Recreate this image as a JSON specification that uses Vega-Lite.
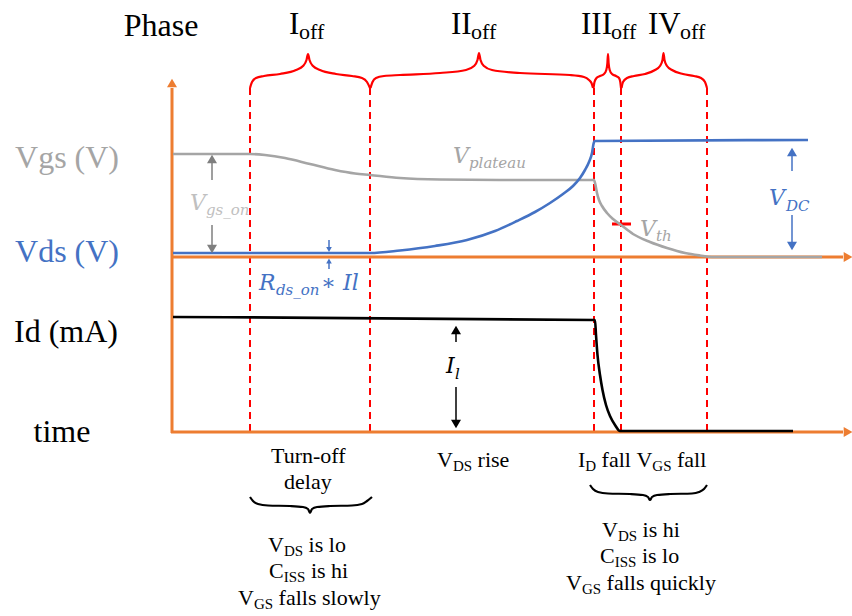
{
  "$schema": "https://vega.github.io/schema/vega-lite/v6.json",
  "width": 852,
  "height": 616,
  "padding": 0,
  "autosize": {"type": "none"},
  "background": "white",
  "config": {"view": {"stroke": null}},
  "datasets": {
    "axes": [
      {"x": 172, "y": 433, "x2": 172, "y2": 88, "c": "axis"},
      {"x": 171, "y": 257, "x2": 843, "y2": 257, "c": "axis"},
      {"x": 171, "y": 432, "x2": 843, "y2": 432, "c": "axis"},
      {"x": 612, "y": 224, "x2": 631, "y2": 224, "c": "red"}
    ],
    "dashes": [
      {"x": 250, "y": 88, "y2": 432, "c": "red"},
      {"x": 370, "y": 88, "y2": 432, "c": "red"},
      {"x": 594, "y": 88, "y2": 432, "c": "red"},
      {"x": 621, "y": 88, "y2": 432, "c": "red"},
      {"x": 707, "y": 88, "y2": 432, "c": "red"}
    ],
    "shafts": [
      {"x": 212, "y": 163, "x2": 212, "y2": 180, "c": "dgray"},
      {"x": 212, "y": 225, "x2": 212, "y2": 245, "c": "dgray"},
      {"x": 329, "y": 240, "x2": 329, "y2": 247, "c": "blue"},
      {"x": 329, "y": 262, "x2": 329, "y2": 269, "c": "blue"},
      {"x": 792, "y": 155, "x2": 792, "y2": 171, "c": "blue"},
      {"x": 792, "y": 215, "x2": 792, "y2": 243, "c": "blue"},
      {"x": 456, "y": 333, "x2": 456, "y2": 342, "c": "black"},
      {"x": 456, "y": 387, "x2": 456, "y2": 420, "c": "black"}
    ],
    "heads": [
      {"x": 848, "y": 257, "dir": "right", "c": "axis"},
      {"x": 848, "y": 432, "dir": "right", "c": "axis"},
      {"x": 172, "y": 83, "dir": "up", "c": "axis"},
      {"x": 212, "y": 159, "dir": "up", "c": "dgray"},
      {"x": 212, "y": 249, "dir": "down", "c": "dgray"},
      {"x": 792, "y": 152, "dir": "up", "c": "blue"},
      {"x": 792, "y": 246, "dir": "down", "c": "blue"},
      {"x": 456, "y": 330, "dir": "up", "c": "black"},
      {"x": 456, "y": 424, "dir": "down", "c": "black"}
    ],
    "smallheads": [
      {"x": 329, "y": 249.5, "dir": "down", "c": "blue"},
      {"x": 329, "y": 261, "dir": "up", "c": "blue"}
    ],
    "waves": [
      {"id": "vgs", "c": "gray", "x": 173, "y": 154},
      {"id": "vgs", "c": "gray", "x": 250, "y": 154},
      {"id": "vgs", "c": "gray", "x": 265, "y": 155},
      {"id": "vgs", "c": "gray", "x": 285, "y": 158},
      {"id": "vgs", "c": "gray", "x": 310, "y": 164},
      {"id": "vgs", "c": "gray", "x": 335, "y": 170},
      {"id": "vgs", "c": "gray", "x": 355, "y": 173.5},
      {"id": "vgs", "c": "gray", "x": 370, "y": 175},
      {"id": "vgs", "c": "gray", "x": 400, "y": 178},
      {"id": "vgs", "c": "gray", "x": 440, "y": 179.5},
      {"id": "vgs", "c": "gray", "x": 500, "y": 180},
      {"id": "vgs", "c": "gray", "x": 594, "y": 180},
      {"id": "vgs", "c": "gray", "x": 595.5, "y": 185},
      {"id": "vgs", "c": "gray", "x": 597, "y": 193},
      {"id": "vgs", "c": "gray", "x": 599, "y": 200},
      {"id": "vgs", "c": "gray", "x": 602, "y": 206},
      {"id": "vgs", "c": "gray", "x": 607, "y": 213},
      {"id": "vgs", "c": "gray", "x": 613, "y": 219},
      {"id": "vgs", "c": "gray", "x": 621, "y": 225},
      {"id": "vgs", "c": "gray", "x": 633, "y": 234},
      {"id": "vgs", "c": "gray", "x": 650, "y": 242},
      {"id": "vgs", "c": "gray", "x": 667, "y": 248},
      {"id": "vgs", "c": "gray", "x": 685, "y": 253},
      {"id": "vgs", "c": "gray", "x": 700, "y": 255.5},
      {"id": "vgs", "c": "gray", "x": 712, "y": 257},
      {"id": "vgs", "c": "gray", "x": 822, "y": 257},
      {"id": "vds", "c": "blue", "x": 173, "y": 253},
      {"id": "vds", "c": "blue", "x": 370, "y": 253},
      {"id": "vds", "c": "blue", "x": 400, "y": 250.5},
      {"id": "vds", "c": "blue", "x": 435, "y": 246},
      {"id": "vds", "c": "blue", "x": 467, "y": 240},
      {"id": "vds", "c": "blue", "x": 495, "y": 231},
      {"id": "vds", "c": "blue", "x": 517, "y": 221},
      {"id": "vds", "c": "blue", "x": 535, "y": 212},
      {"id": "vds", "c": "blue", "x": 550, "y": 203},
      {"id": "vds", "c": "blue", "x": 563, "y": 194},
      {"id": "vds", "c": "blue", "x": 573, "y": 186},
      {"id": "vds", "c": "blue", "x": 580, "y": 178},
      {"id": "vds", "c": "blue", "x": 585, "y": 170},
      {"id": "vds", "c": "blue", "x": 589, "y": 162},
      {"id": "vds", "c": "blue", "x": 592, "y": 153},
      {"id": "vds", "c": "blue", "x": 593.5, "y": 144},
      {"id": "vds", "c": "blue", "x": 594.5, "y": 141},
      {"id": "vds", "c": "blue", "x": 808, "y": 140},
      {"id": "id", "c": "black", "x": 173, "y": 317},
      {"id": "id", "c": "black", "x": 595, "y": 320},
      {"id": "id", "c": "black", "x": 596, "y": 335},
      {"id": "id", "c": "black", "x": 597.5, "y": 355},
      {"id": "id", "c": "black", "x": 600, "y": 375},
      {"id": "id", "c": "black", "x": 602.5, "y": 390},
      {"id": "id", "c": "black", "x": 606, "y": 405},
      {"id": "id", "c": "black", "x": 610, "y": 416},
      {"id": "id", "c": "black", "x": 615, "y": 425},
      {"id": "id", "c": "black", "x": 620, "y": 431},
      {"id": "id", "c": "black", "x": 793, "y": 431}
    ],
    "braces": [
      {"id": "b1", "c": "red", "x": 250, "y": 88},
      {"id": "b1", "c": "red", "x": 252, "y": 82},
      {"id": "b1", "c": "red", "x": 256, "y": 78},
      {"id": "b1", "c": "red", "x": 264, "y": 76},
      {"id": "b1", "c": "red", "x": 280, "y": 74},
      {"id": "b1", "c": "red", "x": 296, "y": 70},
      {"id": "b1", "c": "red", "x": 303, "y": 66},
      {"id": "b1", "c": "red", "x": 306.5, "y": 60},
      {"id": "b1", "c": "red", "x": 308, "y": 54},
      {"id": "b1", "c": "red", "x": 309.5, "y": 60},
      {"id": "b1", "c": "red", "x": 313, "y": 66},
      {"id": "b1", "c": "red", "x": 320, "y": 70},
      {"id": "b1", "c": "red", "x": 336, "y": 74},
      {"id": "b1", "c": "red", "x": 352, "y": 76},
      {"id": "b1", "c": "red", "x": 362, "y": 78},
      {"id": "b1", "c": "red", "x": 367, "y": 82},
      {"id": "b1", "c": "red", "x": 370, "y": 88},
      {"id": "b2", "c": "red", "x": 370.5, "y": 88},
      {"id": "b2", "c": "red", "x": 372.5, "y": 82},
      {"id": "b2", "c": "red", "x": 376, "y": 78},
      {"id": "b2", "c": "red", "x": 384, "y": 76},
      {"id": "b2", "c": "red", "x": 400, "y": 75},
      {"id": "b2", "c": "red", "x": 440, "y": 73},
      {"id": "b2", "c": "red", "x": 466, "y": 70},
      {"id": "b2", "c": "red", "x": 474, "y": 66},
      {"id": "b2", "c": "red", "x": 477.5, "y": 60},
      {"id": "b2", "c": "red", "x": 479, "y": 53},
      {"id": "b2", "c": "red", "x": 480.5, "y": 60},
      {"id": "b2", "c": "red", "x": 484, "y": 66},
      {"id": "b2", "c": "red", "x": 492, "y": 70},
      {"id": "b2", "c": "red", "x": 520, "y": 73},
      {"id": "b2", "c": "red", "x": 570, "y": 75},
      {"id": "b2", "c": "red", "x": 584, "y": 77},
      {"id": "b2", "c": "red", "x": 589, "y": 80},
      {"id": "b2", "c": "red", "x": 591.5, "y": 83},
      {"id": "b2", "c": "red", "x": 593, "y": 88},
      {"id": "b3", "c": "red", "x": 593.5, "y": 88},
      {"id": "b3", "c": "red", "x": 594.5, "y": 82},
      {"id": "b3", "c": "red", "x": 596.5, "y": 78},
      {"id": "b3", "c": "red", "x": 600, "y": 76},
      {"id": "b3", "c": "red", "x": 604, "y": 74},
      {"id": "b3", "c": "red", "x": 606.3, "y": 70},
      {"id": "b3", "c": "red", "x": 607.4, "y": 63},
      {"id": "b3", "c": "red", "x": 608, "y": 54},
      {"id": "b3", "c": "red", "x": 608.6, "y": 63},
      {"id": "b3", "c": "red", "x": 609.7, "y": 70},
      {"id": "b3", "c": "red", "x": 612, "y": 74},
      {"id": "b3", "c": "red", "x": 616, "y": 76},
      {"id": "b3", "c": "red", "x": 619, "y": 78},
      {"id": "b3", "c": "red", "x": 620.3, "y": 82},
      {"id": "b3", "c": "red", "x": 621, "y": 88},
      {"id": "b4", "c": "red", "x": 621.5, "y": 88},
      {"id": "b4", "c": "red", "x": 623, "y": 82},
      {"id": "b4", "c": "red", "x": 627, "y": 78},
      {"id": "b4", "c": "red", "x": 634, "y": 76},
      {"id": "b4", "c": "red", "x": 645, "y": 74},
      {"id": "b4", "c": "red", "x": 655, "y": 70},
      {"id": "b4", "c": "red", "x": 660, "y": 66},
      {"id": "b4", "c": "red", "x": 662.5, "y": 60},
      {"id": "b4", "c": "red", "x": 663.5, "y": 53},
      {"id": "b4", "c": "red", "x": 664.5, "y": 60},
      {"id": "b4", "c": "red", "x": 667, "y": 66},
      {"id": "b4", "c": "red", "x": 672, "y": 70},
      {"id": "b4", "c": "red", "x": 683, "y": 74},
      {"id": "b4", "c": "red", "x": 694, "y": 76},
      {"id": "b4", "c": "red", "x": 701, "y": 78},
      {"id": "b4", "c": "red", "x": 705, "y": 82},
      {"id": "b4", "c": "red", "x": 707, "y": 88},
      {"id": "b5", "c": "black", "x": 250, "y": 497},
      {"id": "b5", "c": "black", "x": 253, "y": 501},
      {"id": "b5", "c": "black", "x": 258, "y": 504},
      {"id": "b5", "c": "black", "x": 268, "y": 505.5},
      {"id": "b5", "c": "black", "x": 290, "y": 506},
      {"id": "b5", "c": "black", "x": 303, "y": 507},
      {"id": "b5", "c": "black", "x": 308, "y": 509},
      {"id": "b5", "c": "black", "x": 310, "y": 513},
      {"id": "b5", "c": "black", "x": 312, "y": 509},
      {"id": "b5", "c": "black", "x": 317, "y": 507},
      {"id": "b5", "c": "black", "x": 330, "y": 506},
      {"id": "b5", "c": "black", "x": 352, "y": 505.5},
      {"id": "b5", "c": "black", "x": 362, "y": 504},
      {"id": "b5", "c": "black", "x": 367, "y": 501},
      {"id": "b5", "c": "black", "x": 372, "y": 497},
      {"id": "b6", "c": "black", "x": 590, "y": 485},
      {"id": "b6", "c": "black", "x": 593, "y": 489},
      {"id": "b6", "c": "black", "x": 598, "y": 492},
      {"id": "b6", "c": "black", "x": 608, "y": 493.5},
      {"id": "b6", "c": "black", "x": 630, "y": 494},
      {"id": "b6", "c": "black", "x": 643, "y": 495},
      {"id": "b6", "c": "black", "x": 648, "y": 497},
      {"id": "b6", "c": "black", "x": 650, "y": 500},
      {"id": "b6", "c": "black", "x": 652, "y": 497},
      {"id": "b6", "c": "black", "x": 657, "y": 495},
      {"id": "b6", "c": "black", "x": 670, "y": 494},
      {"id": "b6", "c": "black", "x": 692, "y": 493.5},
      {"id": "b6", "c": "black", "x": 699, "y": 492},
      {"id": "b6", "c": "black", "x": 704, "y": 489},
      {"id": "b6", "c": "black", "x": 707, "y": 485}
    ],
    "big": [
      {"x": 161, "y": 36, "t": "Phase", "c": "black"},
      {"x": 67, "y": 168, "t": "Vgs (V)", "c": "gray"},
      {"x": 67, "y": 262, "t": "Vds (V)", "c": "blue"},
      {"x": 66, "y": 342, "t": "Id (mA)", "c": "black"},
      {"x": 62, "y": 442, "t": "time", "c": "black"}
    ],
    "roman": [
      {"x": 289, "y": 34, "t": "I", "c": "black"},
      {"x": 451, "y": 34, "t": "II", "c": "black"},
      {"x": 581, "y": 34, "t": "III", "c": "black"},
      {"x": 648, "y": 34, "t": "IV", "c": "black"}
    ],
    "romansub": [
      {"x": 299, "y": 39, "t": "off", "c": "black"},
      {"x": 471, "y": 39, "t": "off", "c": "black"},
      {"x": 611, "y": 39, "t": "off", "c": "black"},
      {"x": 680, "y": 39, "t": "off", "c": "black"}
    ],
    "lab": [
      {"x": 271, "y": 463, "t": "Turn-off", "c": "black"},
      {"x": 284, "y": 489, "t": "delay", "c": "black"},
      {"x": 268, "y": 552, "t": "V", "c": "black"},
      {"x": 308.6, "y": 552, "t": "is lo", "c": "black"},
      {"x": 269, "y": 578, "t": "C", "c": "black"},
      {"x": 310.9, "y": 578, "t": "is hi", "c": "black"},
      {"x": 238, "y": 605, "t": "V", "c": "black"},
      {"x": 278.6, "y": 605, "t": "falls slowly", "c": "black"},
      {"x": 437, "y": 467, "t": "V", "c": "black"},
      {"x": 477.6, "y": 467, "t": "rise", "c": "black"},
      {"x": 578, "y": 467, "t": "I", "c": "black"},
      {"x": 601.6, "y": 467, "t": "fall", "c": "black"},
      {"x": 636.4, "y": 467, "t": "V", "c": "black"},
      {"x": 677, "y": 467, "t": "fall", "c": "black"},
      {"x": 602, "y": 537, "t": "V", "c": "black"},
      {"x": 642.6, "y": 537, "t": "is hi", "c": "black"},
      {"x": 600, "y": 563, "t": "C", "c": "black"},
      {"x": 641.9, "y": 563, "t": "is lo", "c": "black"},
      {"x": 566, "y": 590, "t": "V", "c": "black"},
      {"x": 606.6, "y": 590, "t": "falls quickly", "c": "black"}
    ],
    "labsub": [
      {"x": 283.9, "y": 556, "t": "DS", "c": "black"},
      {"x": 283.7, "y": 582, "t": "ISS", "c": "black"},
      {"x": 253.9, "y": 609, "t": "GS", "c": "black"},
      {"x": 452.9, "y": 471, "t": "DS", "c": "black"},
      {"x": 585.3, "y": 471, "t": "D", "c": "black"},
      {"x": 652.3, "y": 471, "t": "GS", "c": "black"},
      {"x": 617.9, "y": 541, "t": "DS", "c": "black"},
      {"x": 614.7, "y": 567, "t": "ISS", "c": "black"},
      {"x": 581.9, "y": 594, "t": "GS", "c": "black"}
    ],
    "math": [
      {"x": 190, "y": 210, "t": "V", "c": "lgray"},
      {"x": 259, "y": 290, "t": "R", "c": "blue"},
      {"x": 321, "y": 290, "t": "∗ Il", "c": "blue"},
      {"x": 453, "y": 163, "t": "V", "c": "gray"},
      {"x": 640, "y": 236, "t": "V", "c": "gray"},
      {"x": 769, "y": 205, "t": "V", "c": "blue"},
      {"x": 446, "y": 373, "t": "I", "c": "black"}
    ],
    "mathsub": [
      {"x": 206, "y": 215, "t": "gs_on", "c": "lgray"},
      {"x": 276, "y": 295, "t": "ds_on", "c": "blue"},
      {"x": 469, "y": 168, "t": "plateau", "c": "gray"},
      {"x": 656, "y": 241, "t": "th", "c": "gray"},
      {"x": 786, "y": 211, "t": "DC", "c": "blue"},
      {"x": 455, "y": 379, "t": "l", "c": "black"}
    ]
  },
  "encoding": {
    "x": {"field": "x", "type": "quantitative", "scale": {"domain": [0, 852], "nice": false, "zero": false}, "axis": null},
    "y": {"field": "y", "type": "quantitative", "scale": {"domain": [0, 616], "nice": false, "zero": false, "reverse": true}, "axis": null},
    "color": {
      "field": "c", "type": "nominal", "legend": null,
      "scale": {
        "domain": ["axis", "gray", "lgray", "dgray", "blue", "black", "red"],
        "range": ["#ed7d31", "#a5a5a5", "#c0c0c0", "#7f7f7f", "#4472c4", "#000000", "#ff0000"]
      }
    }
  },
  "layer": [
    {
      "data": {"name": "dashes"},
      "mark": {"type": "rule", "strokeWidth": 2, "strokeDash": [7, 5]},
      "encoding": {"y2": {"field": "y2"}}
    },
    {
      "data": {"name": "axes"},
      "mark": {"type": "rule", "strokeWidth": 3},
      "encoding": {"x2": {"field": "x2"}, "y2": {"field": "y2"}}
    },
    {
      "data": {"name": "waves"},
      "mark": {"type": "line", "strokeWidth": 2.6, "interpolate": "monotone"},
      "encoding": {"detail": {"field": "id", "type": "nominal"}}
    },
    {
      "data": {"name": "braces"},
      "mark": {"type": "line", "strokeWidth": 2.2, "interpolate": "monotone"},
      "encoding": {"detail": {"field": "id", "type": "nominal"}}
    },
    {
      "data": {"name": "shafts"},
      "mark": {"type": "rule", "strokeWidth": 1.5},
      "encoding": {"x2": {"field": "x2"}, "y2": {"field": "y2"}}
    },
    {
      "data": {"name": "heads"},
      "mark": {"type": "point", "filled": true, "opacity": 1, "size": 100},
      "encoding": {
        "shape": {"field": "dir", "type": "nominal", "legend": null, "scale": {"domain": ["up", "down", "right"], "range": ["triangle-up", "triangle-down", "triangle-right"]}}
      }
    },
    {
      "data": {"name": "smallheads"},
      "mark": {"type": "point", "filled": true, "opacity": 1, "size": 32},
      "encoding": {
        "shape": {"field": "dir", "type": "nominal", "legend": null, "scale": {"domain": ["up", "down", "right"], "range": ["triangle-up", "triangle-down", "triangle-right"]}}
      }
    },
    {
      "data": {"name": "big"},
      "mark": {"type": "text", "font": "Liberation Serif, Times New Roman, serif", "fontSize": 32, "align": "center", "baseline": "alphabetic"},
      "encoding": {"text": {"field": "t"}}
    },
    {
      "data": {"name": "roman"},
      "mark": {"type": "text", "font": "Liberation Serif, Times New Roman, serif", "fontSize": 31, "align": "left", "baseline": "alphabetic"},
      "encoding": {"text": {"field": "t"}}
    },
    {
      "data": {"name": "romansub"},
      "mark": {"type": "text", "font": "Liberation Serif, Times New Roman, serif", "fontSize": 22, "align": "left", "baseline": "alphabetic"},
      "encoding": {"text": {"field": "t"}}
    },
    {
      "data": {"name": "lab"},
      "mark": {"type": "text", "font": "Liberation Serif, Times New Roman, serif", "fontSize": 22, "align": "left", "baseline": "alphabetic"},
      "encoding": {"text": {"field": "t"}}
    },
    {
      "data": {"name": "labsub"},
      "mark": {"type": "text", "font": "Liberation Serif, Times New Roman, serif", "fontSize": 15, "align": "left", "baseline": "alphabetic"},
      "encoding": {"text": {"field": "t"}}
    },
    {
      "data": {"name": "math"},
      "mark": {"type": "text", "font": "DejaVu Serif", "fontStyle": "italic", "fontSize": 22, "align": "left", "baseline": "alphabetic"},
      "encoding": {"text": {"field": "t"}}
    },
    {
      "data": {"name": "mathsub"},
      "mark": {"type": "text", "font": "DejaVu Serif", "fontStyle": "italic", "fontSize": 15, "align": "left", "baseline": "alphabetic"},
      "encoding": {"text": {"field": "t"}}
    }
  ]
}
